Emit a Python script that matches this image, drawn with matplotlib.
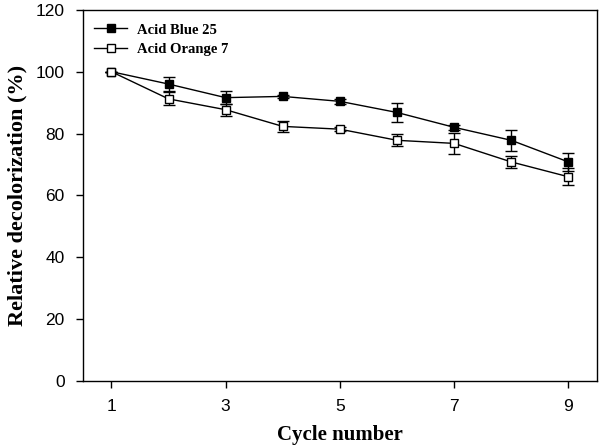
import matplotlib
matplotlib.use("Agg")
import matplotlib.pyplot as plt

# data
cycles = [1, 2, 3, 4, 5, 6, 7, 8, 9]
blue25 = [100, 96.0, 91.6, 92.0, 90.4, 86.8, 82.0, 77.8, 70.8]
blue25_err = [0, 2.4, 2.0, 0.6, 0.8, 3.0, 0.9, 3.4, 3.0]
orange7 = [100, 91.2, 87.7, 82.3, 81.4, 77.8, 76.8, 70.8, 66.0]
orange7_err = [0, 2.1, 1.9, 1.8, 0.6, 2.0, 3.5, 1.9, 2.8]

xticks = [1, 3, 5, 7, 9]
yticks = [0, 20, 40, 60, 80, 100, 120]

fig = plt.figure(figsize=(6, 4.48), dpi=100)
ax = fig.add_axes([0.138, 0.15, 0.857, 0.828])

ax.errorbar(cycles, blue25, yerr=blue25_err, color="black", marker="s",
            markersize=5.2, markerfacecolor="black", markeredgecolor="black",
            linewidth=1.0, elinewidth=1.0, capsize=4, capthick=1.0,
            label="Acid Blue 25", zorder=3)
ax.errorbar(cycles, orange7, yerr=orange7_err, color="black", marker="s",
            markersize=5.2, markerfacecolor="white", markeredgecolor="black",
            linewidth=1.0, elinewidth=1.0, capsize=4, capthick=1.0,
            label="Acid Orange 7", zorder=3)

ax.set_xlim(0.5, 9.5)
ax.set_ylim(0, 120)
ax.set_xticks(xticks)
ax.set_yticks(yticks)
ax.tick_params(direction="out", length=5, width=1, labelsize=12.5, pad=8)
for lab in ax.get_xticklabels() + ax.get_yticklabels():
    lab.set_family("Liberation Sans")

ax.set_xlabel("Cycle number", fontsize=15, fontweight="bold",
              family="Liberation Serif", labelpad=8)
ax.set_ylabel("Relative decolorization (%)", fontsize=16, fontweight="bold",
              family="Liberation Serif", labelpad=6)

for s in ax.spines.values():
    s.set_linewidth(1.0)

handles, labels = ax.get_legend_handles_labels()
handles = [h[0] for h in handles]
ax.legend(handles, labels, loc="upper left", frameon=False,
          prop={"family": "Liberation Serif", "weight": "bold", "size": 10.5},
          handlelength=2.2, handletextpad=0.7, labelspacing=0.45,
          borderaxespad=0.4, bbox_to_anchor=(0.0, 0.995))

fig.savefig("out.png", dpi=100)
